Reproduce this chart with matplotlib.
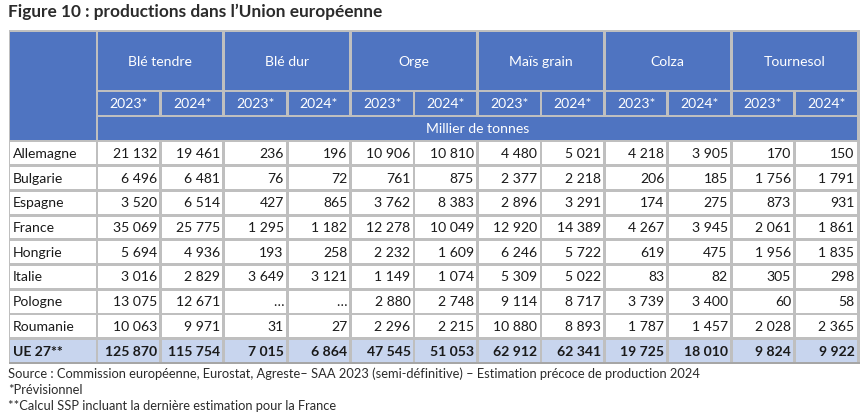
import matplotlib
matplotlib.use("Agg")
import matplotlib.pyplot as plt
from matplotlib.patches import Rectangle

plt.rcParams['font.family'] = ['Lato', 'DejaVu Sans']

title = "Figure 10 : productions dans l\u2019Union européenne"
crops = ["Blé tendre", "Blé dur", "Orge", "Maïs grain", "Colza", "Tournesol"]
years = ["2023*", "2024*"]
unit = "Millier de tonnes"
countries = ["Allemagne", "Bulgarie", "Espagne", "France", "Hongrie",
             "Italie", "Pologne", "Roumanie"]
total_label = "UE 27**"

# one list per country : blé tendre 23/24, blé dur 23/24, orge, maïs, colza, tournesol
values = {
    "Allemagne": [21132, 19461, 236, 196, 10906, 10810, 4480, 5021, 4218, 3905, 170, 150],
    "Bulgarie":  [6496, 6481, 76, 72, 761, 875, 2377, 2218, 206, 185, 1756, 1791],
    "Espagne":   [3520, 6514, 427, 865, 3762, 8383, 2896, 3291, 174, 275, 873, 931],
    "France":    [35069, 25775, 1295, 1182, 12278, 10049, 12920, 14389, 4267, 3945, 2061, 1861],
    "Hongrie":   [5694, 4936, 193, 258, 2232, 1609, 6246, 5722, 619, 475, 1956, 1835],
    "Italie":    [3016, 2829, 3649, 3121, 1149, 1074, 5309, 5022, 83, 82, 305, 298],
    "Pologne":   [13075, 12671, None, None, 2880, 2748, 9114, 8717, 3739, 3400, 60, 58],
    "Roumanie":  [10063, 9971, 31, 27, 2296, 2215, 10880, 8893, 1787, 1457, 2028, 2365],
}
totals = [125870, 115754, 7015, 6864, 47545, 51053, 62912, 62341, 19725, 18010, 9824, 9922]

notes = ["Source : Commission européenne, Eurostat, Agreste\u2013 SAA 2023 (semi-définitive) \u2013 Estimation précoce de production 2024",
         "*Prévisionnel",
         "**Calcul SSP incluant la dernière estimation pour la France"]

BLUE = "#4f74c1"
LIGHT = "#c8d5ee"
GRID = "#bfbfbf"
TXT = "#1a1a1a"


def fmt(v):
    if v is None:
        return "\u2026"
    return f"{v:,}".replace(",", " ")


fig = plt.figure(figsize=(8.65, 4.2), dpi=100)
ax = fig.add_axes([0, 0, 1, 1])
ax.set_xlim(0, 865)
ax.set_ylim(420, 0)
ax.axis("off")

g = 2.8
x_lab0, x_lab1 = 10, 97
cw = (858 - 97) / 12
xs = [x_lab1 + cw * k for k in range(13)]
y_h0, y_h1, y_h2, y_h3 = 31, 91, 116, 141
rh = (363.5 - y_h3) / 9
fs = 10.1


def cell(x0, x1, y0, y1, color):
    ax.add_patch(Rectangle((x0 + g / 2, y0 + g / 2), x1 - x0 - g, y1 - y0 - g,
                           facecolor=color, edgecolor="none", zorder=2))


# grey background acts as grid
ax.add_patch(Rectangle((x_lab0 - 1, y_h0 - 1), 858 - x_lab0 + 2.5, 365 - y_h0,
                       facecolor=GRID, edgecolor="none", zorder=1))
ax.add_patch(Rectangle((x_lab0 - 1, 362), 858 - x_lab0 + 2.5, 2.2,
                       facecolor="#a6a6a6", edgecolor="none", zorder=3))

# header
ax.add_patch(Rectangle((x_lab0, y_h0 + g / 2), x_lab1 - x_lab0 - g / 2, y_h3 - y_h0 - g,
                       facecolor=BLUE, edgecolor="none", zorder=2))
for i, c in enumerate(crops):
    x0, x1 = xs[2 * i], xs[2 * i + 2]
    cell(x0, x1, y_h0, y_h1, BLUE)
    ax.text((x0 + x1) / 2, (y_h0 + y_h1) / 2 + 1, c, color="white", fontsize=fs,
            ha="center", va="center", zorder=4)
    for j, yr in enumerate(years):
        a, b = xs[2 * i + j], xs[2 * i + j + 1]
        cell(a, b, y_h1, y_h2, BLUE)
        ax.text((a + b) / 2, (y_h1 + y_h2) / 2 + 0.5, yr, color="white", fontsize=fs,
                ha="center", va="center", zorder=4)
cell(xs[0], xs[-1], y_h2, y_h3, BLUE)
ax.text((xs[0] + xs[-1]) / 2, (y_h2 + y_h3) / 2 + 0.5, unit, color="white", fontsize=fs,
        ha="center", va="center", zorder=4)

# body
rows = [(c, values[c], False) for c in countries] + [(total_label, totals, True)]
for r, (name, vals, bold) in enumerate(rows):
    y0 = y_h3 + r * rh
    y1 = y0 + rh
    bg = LIGHT if bold else "white"
    wt = "bold" if bold else "normal"
    cell(x_lab0 - 1, x_lab1, y0, y1, bg)
    ax.text(x_lab0 + 3, (y0 + y1) / 2 + 0.5, name, fontsize=fs, color=TXT,
            fontweight=wt, ha="left", va="center", zorder=4)
    for k, v in enumerate(vals):
        cell(xs[k], xs[k + 1], y0, y1, bg)
        ax.text(xs[k + 1] - 3.5, (y0 + y1) / 2 + 0.5, fmt(v), fontsize=fs, color=TXT,
                fontweight=wt, ha="right", va="center", zorder=4)

ax.text(8, 12, title, fontsize=12.4, fontweight="bold", color="#2b2b2b",
        ha="left", va="center")
for i, n in enumerate(notes):
    ax.text(8, 374 + i * 16, n, fontsize=9.3, color="#2b2b2b", ha="left", va="center")

fig.savefig("out.png", dpi=100)
